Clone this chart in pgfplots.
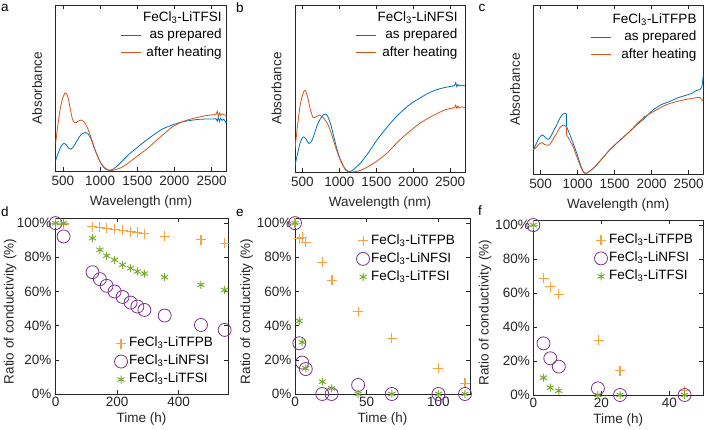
\documentclass[border=0pt]{standalone}
\usepackage{fontspec}
\setmainfont{Liberation Sans}
\usepackage{pgfplots}
\pgfplotsset{compat=1.18}
\definecolor{cblue}{RGB}{0,114,189}
\definecolor{corange}{RGB}{217,83,25}
\definecolor{mplus}{RGB}{250,160,65}
\definecolor{mpurple}{RGB}{126,47,142}
\definecolor{mgreen}{RGB}{119,172,48}
\definecolor{axgray}{RGB}{38,38,38}
\newcommand{\fs}{\fontsize{13.5}{15.5}\selectfont}
\pgfplotsset{
  every axis/.append style={
    scale only axis,
    font=\fs,
    axis line style={axgray, line width=0.6pt},
    every tick/.style={axgray, line width=0.5pt},
    tick label style={font=\fs, color=axgray},
    label style={font=\fs, color=axgray},
    /pgf/number format/assume math mode=true,
    /pgf/number format/1000 sep={},
    major tick length=4pt,
  },
  specstyle/.style={
    xmin=400, xmax=2700, ymin=0, ymax=1,
    xtick={500,1000,1500,2000,2500}, ytick=\empty,
    xlabel={Wavelength (nm)}, ylabel={Absorbance},
    xlabel style={at={(axis description cs:0.5,-0.185)}, anchor=center},
    ylabel style={at={(axis description cs:-0.108,0.5)}, anchor=center},
    xticklabel style={yshift=-2pt},
    legend style={draw=none, fill=none, inner sep=0pt, anchor=north east, font=\fs,
      nodes={inner sep=1.5pt, text height=9.5pt, text depth=3pt}, row sep=2pt},
    legend cell align=right,
    legend image code/.code={\draw[#1] (0pt,0pt) -- (20pt,0pt);},
  },
  condstyle/.style={
    ymin=0, ymax=103,
    ytick={0,20,40,60,80,100}, yticklabels={0\%,20\%,40\%,60\%,80\%,100\%},
    xlabel={Time (h)}, ylabel={Ratio of conductivity (\%)},
    xlabel style={at={(axis description cs:0.5,-0.142)}, anchor=center},
    xticklabel style={yshift=0pt},
    legend style={draw=none, fill=none, inner sep=0pt, font=\fs,
      nodes={inner sep=1.5pt, text height=9.5pt, text depth=3pt}, row sep=2.5pt},
    legend cell align=left,
  },
  pplus/.style={only marks, mark=+, mark size=5pt, mplus, line width=1.1pt},
  pcirc/.style={only marks, mark=o, mark size=6.5pt, mpurple, line width=0.8pt},
  pstar/.style={only marks, mark=asterisk, mark size=4pt, mgreen, line width=1pt},
  lblue/.style={cblue, line width=0.8pt},
  lorange/.style={corange, line width=0.8pt},
}
\begin{document}
\begin{tikzpicture}
\useasboundingbox (0pt,0pt) rectangle (706pt,430pt);
% ---------- a ----------
\begin{axis}[specstyle, at={(55.5pt,259pt)}, anchor=south west, width=171pt, height=166pt,
  legend style={at={(0.981,0.971)}}]
\addlegendimage{empty legend}\addlegendentry{FeCl\textsubscript{3}-LiTFSI}
\addplot[lblue, smooth] coordinates {(400,0.06)(430,0.10)(470,0.145)(510,0.166)(545,0.158)(575,0.138)(604,0.131)(640,0.145)(680,0.175)(720,0.205)(760,0.225)(800,0.232)(840,0.222)(880,0.19)(920,0.14)(960,0.095)(1000,0.055)(1040,0.027)(1080,0.01)(1119,0.004)(1170,0.01)(1230,0.03)(1298,0.06)(1400,0.105)(1522,0.15)(1650,0.195)(1746,0.226)(1850,0.255)(1970,0.277)(2100,0.295)(2194,0.303)(2300,0.31)(2418,0.313)(2500,0.313)(2560,0.314)(2575,0.30)(2590,0.322)(2605,0.298)(2620,0.318)(2640,0.305)(2660,0.312)(2700,0.29)};
\addlegendentry{as prepared}
\addplot[lorange, smooth] coordinates {(400,0.16)(430,0.27)(470,0.39)(510,0.455)(540,0.47)(570,0.44)(600,0.37)(630,0.31)(660,0.29)(700,0.298)(740,0.307)(780,0.298)(820,0.27)(860,0.225)(900,0.17)(940,0.12)(980,0.075)(1020,0.042)(1060,0.02)(1100,0.008)(1155,0.003)(1220,0.01)(1300,0.024)(1400,0.055)(1522,0.097)(1650,0.14)(1746,0.18)(1850,0.22)(1970,0.265)(2100,0.295)(2194,0.31)(2300,0.322)(2418,0.333)(2500,0.338)(2560,0.342)(2575,0.36)(2590,0.33)(2605,0.35)(2620,0.335)(2640,0.345)(2660,0.34)(2700,0.333)};
\addlegendentry{after heating}
\end{axis}
% ---------- b ----------
\begin{axis}[specstyle, at={(295pt,258pt)}, anchor=south west, width=170pt, height=167pt,
  legend style={at={(0.966,0.971)}}]
\addlegendimage{empty legend}\addlegendentry{FeCl\textsubscript{3}-LiNFSI}
\addplot[lblue, smooth] coordinates {(400,0.04)(430,0.10)(470,0.175)(510,0.21)(545,0.2)(590,0.17)(630,0.19)(670,0.24)(710,0.29)(760,0.33)(806,0.347)(840,0.335)(880,0.29)(920,0.22)(960,0.15)(1000,0.09)(1050,0.04)(1090,0.01)(1125,0.0)(1170,0.008)(1230,0.03)(1298,0.06)(1400,0.12)(1522,0.2)(1650,0.27)(1746,0.32)(1850,0.365)(1970,0.41)(2100,0.445)(2194,0.47)(2300,0.49)(2418,0.505)(2500,0.512)(2560,0.518)(2575,0.535)(2590,0.51)(2605,0.525)(2620,0.515)(2650,0.52)(2700,0.515)};
\addlegendentry{as prepared}
\addplot[lorange, smooth] coordinates {(400,0.14)(430,0.26)(470,0.4)(510,0.47)(536,0.49)(570,0.45)(610,0.37)(648,0.325)(690,0.332)(738,0.34)(790,0.32)(840,0.29)(880,0.245)(920,0.19)(960,0.135)(1000,0.085)(1040,0.045)(1080,0.018)(1120,0.004)(1164,0)(1230,0.003)(1298,0.012)(1400,0.035)(1522,0.07)(1650,0.115)(1746,0.16)(1850,0.205)(1970,0.25)(2100,0.295)(2194,0.32)(2300,0.345)(2418,0.37)(2500,0.38)(2560,0.386)(2575,0.4)(2590,0.38)(2605,0.395)(2620,0.383)(2650,0.39)(2700,0.385)};
\addlegendentry{after heating}
\end{axis}
% ---------- c ----------
\begin{axis}[specstyle, at={(533.3pt,256pt)}, anchor=south west, width=170pt, height=169pt,
  legend style={at={(0.97,0.959)}}]
\addlegendimage{empty legend}\addlegendentry{FeCl\textsubscript{3}-LiTFPB}
\addplot[lblue, smooth] coordinates {(400,0.142)(440,0.18)(480,0.215)(526,0.231)(565,0.215)(603,0.205)(640,0.225)(680,0.26)(716,0.29)(760,0.33)(800,0.355)(830,0.36)(848,0.355)};
\addlegendentry{as prepared}
\addplot[lorange, smooth] coordinates {(400,0.142)(440,0.158)(480,0.178)(513,0.185)(560,0.173)(603,0.17)(640,0.185)(680,0.215)(716,0.24)(760,0.275)(806,0.29)(830,0.285)(848,0.275)};
\addlegendentry{after heating}
\addplot[lblue, forget plot] coordinates {(848,0.355)(850,0.28)};
\addplot[lblue, smooth, forget plot] coordinates {(850,0.28)(880,0.25)(910,0.215)(941,0.18)(990,0.12)(1031,0.063)(1065,0.025)(1099,0.004)(1140,0.01)(1212,0.034)(1280,0.065)(1347,0.10)(1450,0.15)(1573,0.20)(1700,0.25)(1798,0.29)(1880,0.32)(1895,0.325)(1900,0.345)(1905,0.33)(1960,0.355)(2024,0.38)(2130,0.41)(2249,0.43)(2350,0.45)(2475,0.467)(2560,0.48)(2587,0.49)(2620,0.495)(2655,0.50)(2680,0.515)(2700,0.585)};
\addplot[lorange, forget plot] coordinates {(848,0.275)(850,0.232)};
\addplot[lorange, smooth, forget plot] coordinates {(850,0.232)(880,0.21)(910,0.185)(941,0.16)(990,0.10)(1031,0.053)(1065,0.02)(1099,0.004)(1140,0.01)(1212,0.034)(1280,0.065)(1347,0.099)(1450,0.15)(1573,0.20)(1700,0.25)(1798,0.296)(1900,0.335)(2024,0.369)(2130,0.395)(2249,0.418)(2350,0.43)(2475,0.442)(2587,0.45)(2655,0.452)(2700,0.43)};
\end{axis}
% ---------- d ----------
\begin{axis}[condstyle, at={(55pt,36pt)}, anchor=south west, width=173pt, height=176pt,
  xmin=-2, xmax=561, xtick={0,200,400},
  ylabel style={at={(axis description cs:-0.26,0.47)}, anchor=center},
  legend style={at={(0.922,0.037)}, anchor=south east}]
\addplot[pplus] coordinates {(0,100)(26,99.5)(120,98)(144,97.5)(166,97)(192,96.5)(218,95.7)(244,95)(266,94.7)(289,93.7)(355,92.2)(473,90.2)(550,88.3)};
\addlegendentry{FeCl\textsubscript{3}-LiTFPB}
\addplot[pcirc] coordinates {(0,100)(26,92.2)(120,71.3)(144,67.2)(166,63.3)(192,60)(218,56.8)(244,53.5)(266,51.2)(289,49.2)(355,45.9)(473,40.4)(550,37.5)};
\addlegendentry{FeCl\textsubscript{3}-LiNFSI}
\addplot[pstar] coordinates {(0,100)(26,100)(120,91.2)(144,84.4)(166,80.9)(192,78.5)(218,75.6)(244,73.6)(266,71.7)(289,70.5)(355,68.4)(473,63.9)(550,60.9)};
\addlegendentry{FeCl\textsubscript{3}-LiTFSI}
\end{axis}
% ---------- e ----------
\begin{axis}[condstyle, at={(295pt,36pt)}, anchor=south west, width=175pt, height=176pt,
  xmin=0, xmax=122, xtick={0,50,100},
  ylabel style={at={(axis description cs:-0.276,0.47)}, anchor=center},
  legend style={at={(0.923,0.915)}, anchor=north east}]
\addplot[pplus] coordinates {(0,100)(3,90.8)(5,91.6)(7.5,88.9)(19,77.1)(25.8,66.6)(44,48.2)(67.5,32.6)(100,15)(118.5,6.3)};
\addlegendentry{FeCl\textsubscript{3}-LiTFPB}
\addplot[pcirc] coordinates {(0,100)(3,29.7)(5,18.4)(7.5,14.6)(19,0)(25.5,0)(44,5.3)(67.5,0)(100,0)(118.5,0)};
\addlegendentry{FeCl\textsubscript{3}-LiNFSI}
\addplot[pstar] coordinates {(0,100)(3,42.8)(5,30.3)(7.5,15)(19,7.2)(25.5,3.3)(44,0)(67.5,0)(100,0)(118.5,0)};
\addlegendentry{FeCl\textsubscript{3}-LiTFSI}
\end{axis}
% ---------- f ----------
\begin{axis}[condstyle, at={(533.3pt,35pt)}, anchor=south west, width=170pt, height=175pt,
  xmin=0, xmax=50, xtick={0,20,40},
  ylabel style={at={(axis description cs:-0.284,0.47)}, anchor=center},
  legend style={at={(0.948,0.929)}, anchor=north east}]
\addplot[pplus] coordinates {(0,100)(3,68.6)(5,63.7)(7.5,59.2)(19.2,32.2)(25.5,14.3)(44.5,2.5)};
\addlegendentry{FeCl\textsubscript{3}-LiTFPB}
\addplot[pcirc] coordinates {(0,100)(3,30.4)(5,21.6)(7.5,16.7)(19,3.9)(25.5,0)(44.5,0)};
\addlegendentry{FeCl\textsubscript{3}-LiNFSI}
\addplot[pstar] coordinates {(0,100)(3,10.2)(5,4.3)(7.5,2.5)(19,0)(25.5,0)(44.5,0)};
\addlegendentry{FeCl\textsubscript{3}-LiTFSI}
\end{axis}
% ---------- panel letters ----------
\node[font=\fs, text=black] at (5pt,422pt) {a};
\node[font=\fs, text=black] at (240pt,422pt) {b};
\node[font=\fs, text=black] at (482pt,422pt) {c};
\node[font=\fs, text=black] at (5pt,218pt) {d};
\node[font=\fs, text=black] at (240pt,217pt) {e};
\node[font=\fs, text=black] at (480pt,219pt) {f};
\end{tikzpicture}
\end{document}
